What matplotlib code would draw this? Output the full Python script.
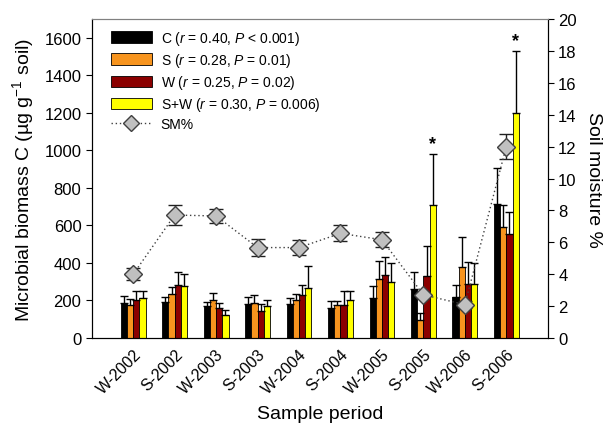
import numpy as np
import matplotlib
matplotlib.use("Agg")
import matplotlib.pyplot as plt
from matplotlib.lines import Line2D

plt.rcParams['font.family'] = ['Liberation Sans', 'DejaVu Sans']
plt.rcParams['mathtext.fontset'] = 'custom'
plt.rcParams['mathtext.rm'] = 'Liberation Sans'
plt.rcParams['mathtext.it'] = 'Liberation Sans:italic'

periods = ['W-2002', 'S-2002', 'W-2003', 'S-2003', 'W-2004',
           'S-2004', 'W-2005', 'S-2005', 'W-2006', 'S-2006']

# microbial biomass C (ug/g soil) and upper SE
c_val = [186, 191, 168, 182, 182, 161, 213, 263, 217, 713]
c_err = [37, 27, 23, 36, 31, 36, 64, 88, 65, 192]
s_val = [175, 234, 202, 186, 200, 177, 316, 94, 376, 591]
s_err = [34, 39, 37, 41, 34, 20, 92, 39, 162, 119]
w_val = [205, 280, 161, 142, 228, 177, 334, 330, 289, 555]
w_err = [45, 71, 28, 39, 52, 71, 95, 160, 116, 116]
sw_val = [214, 278, 124, 172, 269, 204, 298, 710, 287, 1200]
sw_err = [36, 62, 23, 30, 117, 46, 101, 269, 112, 328]

# soil moisture %
sm_val = [4.0, 7.71, 7.65, 5.67, 5.67, 6.56, 6.16, 2.71, 2.09, 12.0]
sm_err = [0.38, 0.6, 0.43, 0.54, 0.45, 0.5, 0.47, 0.2, 0.2, 0.8]

star_idx = [7, 9]

series = [
    (c_val, c_err, '#000000', r'C ($r$ = 0.40, $P$ < 0.001)'),
    (s_val, s_err, '#F7941E', r'S ($r$ = 0.28, $P$ = 0.01)'),
    (w_val, w_err, '#8B0000', r'W ($r$ = 0.25, $P$ = 0.02)'),
    (sw_val, sw_err, '#FFFF00', r'S+W ($r$ = 0.30, $P$ = 0.006)'),
]

fig = plt.figure(figsize=(6.12, 4.31), dpi=100)
ax = fig.add_axes([0.150, 0.2135, 0.745, 0.740])

x = np.arange(len(periods))
bw = 0.15
handles = []
for i, (vals, errs, col, lab) in enumerate(series):
    pos = x + (i - 1.5) * bw
    b = ax.bar(pos, vals, bw, color=col, edgecolor='black', linewidth=0.6, label=lab)
    ax.errorbar(pos, vals, yerr=[np.zeros(len(errs)), errs], fmt='none',
                ecolor='black', elinewidth=1, capsize=3, capthick=1)
    handles.append(b)

for k in star_idx:
    ax.text(x[k] + 1.5 * bw, sw_val[k] + sw_err[k] + 12, '*', ha='center',
            va='bottom', fontsize=13, fontweight='bold')

ax.set_xlim(-1, 10)
ax.set_ylim(0, 1700)
ax.set_yticks(np.arange(0, 1601, 200))
ax.set_xticks(x)
ax.set_xticklabels(periods, rotation=45, ha='right', rotation_mode='anchor', fontsize=11.5)
ax.tick_params(axis='x', length=0, pad=6)
ax.tick_params(axis='y', labelsize=12, direction='out', length=4)
ax.set_ylabel('Microbial biomass C (µg g$^{-1}$ soil)', fontsize=14, labelpad=6)
ax.set_xlabel('Sample period', fontsize=14, labelpad=6)
ax.spines['top'].set_color('#808080')

ax2 = ax.twinx()
ax2.errorbar(x, sm_val, yerr=sm_err, fmt='none', ecolor='#202020',
             elinewidth=1, capsize=5, capthick=1)
ax2.plot(x, sm_val, linestyle=(0, (1, 2)), color='#404040', linewidth=1,
         marker='D', markersize=9.5, markerfacecolor='#C0C0C0',
         markeredgecolor='#404040', markeredgewidth=1)
ax2.set_ylim(0, 20)
ax2.set_yticks(np.arange(0, 21, 2))
ax2.tick_params(axis='y', labelsize=12, direction='out', length=4)
ax2.set_ylabel('Soil moisture %', fontsize=14, rotation=270, labelpad=18)
ax2.spines['top'].set_color('#808080')

sm_handle = Line2D([], [], linestyle=(0, (1, 2)), color='#404040', linewidth=1,
                   marker='D', markersize=8, markerfacecolor='#C0C0C0',
                   markeredgecolor='#404040')
ax.legend(handles + [sm_handle], [s[3] for s in series] + ['SM%'],
          loc='upper left', bbox_to_anchor=(0.02, 1.0), frameon=False,
          fontsize=10, handlelength=3.0, handleheight=0.9,
          labelspacing=0.3, handletextpad=0.6, borderaxespad=0.3)

fig.savefig('out.png', dpi=100)
